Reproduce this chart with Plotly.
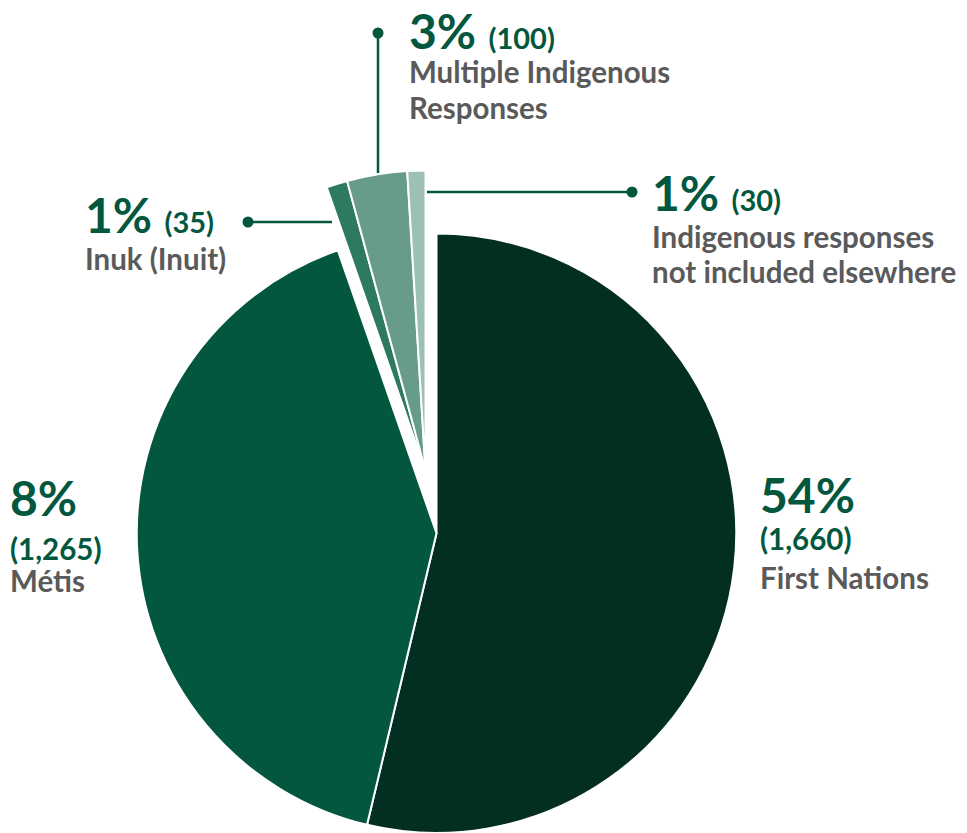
import plotly.graph_objects as go

W, H = 967, 833

categories = ["First Nations", "Métis", "Inuk (Inuit)", "Multiple Indigenous Responses",
              "Indigenous responses not included elsewhere"]
counts = [1660, 1265, 35, 100, 30]
pct_labels = ["54%", "8%", "1%", "3%", "1%"]
count_labels = ["(1,660)", "(1,265)", "(35)", "(100)", "(30)"]
colors = ["#022f21", "#03573e", "#2d7a61", "#679b8c", "#9cc0b4"]
small = [False, False, True, True, True]

GREEN = "#03573e"
GREY = "#5a5a5a"
FONT = "Lato"
BIG = 48
MID = 29.5

# geometry (pixels)
cx, cy, r = 436.5, 533.5, 300
dx, dy = -11, -63  # group offset of the small slices


def dom(cxp, cyp, rad):
    x0 = (cxp - rad) / W
    x1 = (cxp + rad) / W
    y0 = max(0, (H - (cyp + rad)) / H)
    y1 = (H - (cyp - rad)) / H
    return dict(x=[x0, x1], y=[y0, y1])


fig = go.Figure()
fig.add_trace(go.Pie(
    labels=categories, values=counts, sort=False, direction="clockwise", rotation=0,
    marker=dict(colors=[("rgba(0,0,0,0)" if s else c) for c, s in zip(colors, small)],
                line=dict(color="white", width=[0 if s else 2 for s in small])),
    textinfo="none", hoverinfo="skip", showlegend=False,
    domain=dom(cx, cy, r)))
fig.add_trace(go.Pie(
    labels=categories, values=counts, sort=False, direction="clockwise", rotation=0,
    marker=dict(colors=[(c if s else "rgba(0,0,0,0)") for c, s in zip(colors, small)],
                line=dict(color="white", width=[2 if s else 0 for s in small])),
    textinfo="none", hoverinfo="skip", showlegend=False,
    domain=dom(cx + dx, cy + dy, r)))


def px(x):
    return x / W


def py(y):
    return 1 - y / H


def head(i, x, base, inline=True, top=False):
    if inline:
        t = f"<b>{pct_labels[i]}</b> <span style='font-size:29px'><b>{count_labels[i]}</b></span>"
    else:
        t = f"<b>{pct_labels[i]}</b>"
    if top:
        return dict(x=px(x), y=1, xref="paper", yref="paper", text=t, showarrow=False,
                    xanchor="left", yanchor="top", font=dict(family=FONT, size=BIG, color=GREEN))
    return dict(x=px(x), y=py(base - 0.37 * BIG), xref="paper", yref="paper", text=t,
                showarrow=False, xanchor="left", yanchor="middle",
                font=dict(family=FONT, size=BIG, color=GREEN))


def line(text, x, base, color=GREY, size=MID):
    return dict(x=px(x), y=py(base - 0.37 * size), xref="paper", yref="paper",
                text=f"<b>{text}</b>", showarrow=False, xanchor="left", yanchor="middle",
                font=dict(family=FONT, size=size, color=color))


ann = [
    head(0, 758, 512, inline=False),
    line(count_labels[0], 758, 549, GREEN),
    line("First Nations", 758, 588),
    head(1, 8, 515, inline=False),
    line(count_labels[1], 8, 559, GREEN),
    line("Métis", 8, 591),
    head(2, 83, 232),
    line("Inuk (Inuit)", 83, 269),
    head(3, 407, 45, top=True),
    line("Multiple Indigenous", 407, 82),
    line("Responses", 407, 118),
    head(4, 650, 210),
    line("Indigenous responses", 650, 247),
    line("not included elsewhere", 650, 282),
]

shapes = []
leaders = [((248, 222), (332, 222)), ((378, 33), (378, 173)), ((632, 192), (427, 192))]
for (x0, y0), (x1, y1) in leaders:
    shapes.append(dict(type="line", xref="paper", yref="paper", x0=px(x0), y0=py(y0),
                       x1=px(x1), y1=py(y1), line=dict(color=GREEN, width=2.5)))
    rd = 5.5
    shapes.append(dict(type="circle", xref="paper", yref="paper", x0=px(x0 - rd), x1=px(x0 + rd),
                       y0=py(y0 + rd), y1=py(y0 - rd), fillcolor=GREEN, line=dict(width=0)))

fig.update_layout(width=W, height=H, margin=dict(l=0, r=0, t=0, b=0),
                  paper_bgcolor="white", plot_bgcolor="white",
                  annotations=ann, shapes=shapes)
fig.write_html("out.html")
